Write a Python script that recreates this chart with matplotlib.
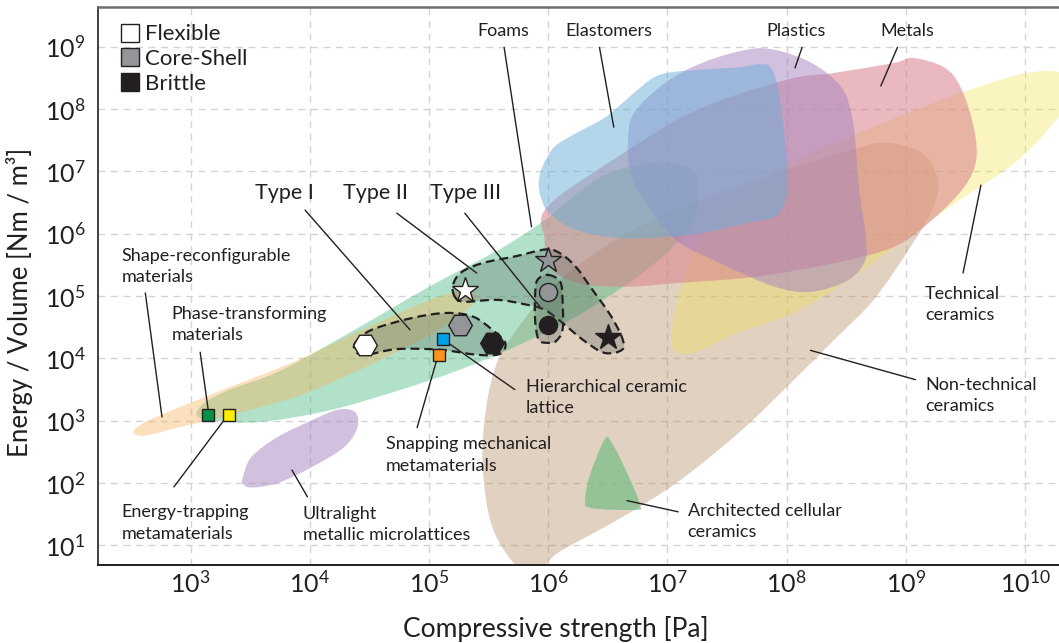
import numpy as np
import matplotlib
matplotlib.use("Agg")
import matplotlib.pyplot as plt
from matplotlib.path import Path
from matplotlib.patches import PathPatch
from matplotlib.lines import Line2D
from matplotlib.ticker import FixedLocator, FuncFormatter

FONT = "Lato"
plt.rcParams["font.family"] = [FONT, "DejaVu Sans"]
plt.rcParams["mathtext.fontset"] = "custom"
plt.rcParams["mathtext.rm"] = FONT
plt.rcParams["mathtext.it"] = FONT

# ---- material property envelopes (log10 strength [Pa], log10 energy density [Nm/m^3]) ----
NONTECH_LX = [5.85, 5.55, 5.45, 5.48, 5.58, 5.75, 5.97, 6.26, 6.68, 7.27, 7.94, 8.53, 8.83, 9.14, 9.27,
              9.23, 9.06, 8.73, 8.40, 8.00, 7.60, 7.08, 6.58, 6.08]
NONTECH_LY = [0.50, 1.20, 2.26, 3.22, 3.98, 4.50, 5.02, 5.50, 6.03, 6.54, 6.99, 7.34, 7.46, 7.29, 6.86,
              6.43, 5.85, 4.94, 4.30, 3.54, 2.81, 2.01, 1.41, 0.88]

TECH_LX = [7.04, 7.07, 7.16, 7.34, 7.66, 8.06, 8.52, 9.14, 9.60, 10.01, 10.30, 10.41, 10.28, 9.91, 9.45,
           8.99, 8.52, 8.06, 7.59, 7.22]
TECH_LY = [4.18, 4.83, 5.37, 6.11, 6.70, 7.18, 7.55, 8.03, 8.35, 8.58, 8.59, 8.39, 7.87, 7.13, 6.54,
           5.90, 5.26, 4.73, 4.41, 4.09]

METALS_LX = [5.99, 6.58, 7.24, 8.00, 8.40, 8.90, 9.06, 9.32, 9.46, 9.57, 9.59, 9.49, 9.22, 8.90, 8.40,
             7.74, 7.08, 6.65, 6.25, 6.01, 5.97]
METALS_LY = [6.43, 7.23, 7.98, 8.47, 8.58, 8.74, 8.82, 8.67, 8.35, 7.71, 7.18, 6.75, 6.22, 5.79, 5.53,
             5.31, 5.21, 5.15, 5.21, 5.47, 5.90]

PLASTICS_LX = [6.67, 6.72, 6.98, 7.29, 7.66, 7.90, 8.21, 8.46, 8.55, 8.58, 8.61, 8.66, 8.66, 8.52, 8.21,
               7.90, 7.44, 7.07, 6.82, 6.69]
PLASTICS_LY = [7.50, 7.94, 8.42, 8.74, 8.95, 8.95, 8.74, 8.35, 7.87, 7.39, 6.70, 6.01, 5.58, 5.26, 5.07,
               5.15, 5.53, 5.90, 6.49, 6.97]

ELASTOMERS_LX = [5.92, 5.95, 6.05, 6.23, 6.48, 6.72, 6.88, 7.03, 7.35, 7.59, 7.78, 7.87, 7.93, 7.98, 8.01,
                 7.99, 7.90, 7.66, 7.29, 6.98, 6.60, 6.23, 6.01, 5.94]
ELASTOMERS_LY = [6.81, 7.07, 7.39, 7.61, 7.87, 8.26, 8.50, 8.59, 8.64, 8.67, 8.72, 8.66, 8.31, 7.62, 6.97,
                 6.54, 6.27, 6.17, 6.01, 5.95, 5.93, 6.06, 6.33, 6.57]

FOAMS_LX = [3.05, 3.20, 3.58, 4.17, 4.75, 5.26, 5.76, 6.26, 6.77, 7.10, 7.25, 7.25, 7.14, 6.85, 6.43,
            5.97, 5.59, 5.01, 4.34, 3.75, 3.33, 3.12]
FOAMS_LY = [3.09, 3.00, 2.98, 3.17, 3.49, 3.82, 4.22, 4.70, 5.34, 5.90, 6.38, 6.86, 7.10, 7.13, 6.90,
            6.22, 5.75, 5.16, 4.42, 3.80, 3.50, 3.29]

SHAPE_LX = [2.52, 2.62, 2.89, 3.33, 3.92, 4.50, 5.01, 5.30, 5.40, 5.30, 5.01, 4.44, 3.87, 3.33, 2.91, 2.62]
SHAPE_LY = [2.82, 2.76, 2.89, 3.09, 3.41, 3.89, 4.38, 4.75, 4.97, 5.08, 4.94, 4.46, 3.95, 3.54, 3.22, 2.98]

LATTICE_LX = [3.44, 3.51, 3.73, 4.02, 4.24, 4.38, 4.40, 4.29, 4.02, 3.73, 3.51, 3.44]
LATTICE_LY = [2.10, 2.42, 2.74, 3.01, 3.18, 3.14, 2.90, 2.58, 2.26, 2.00, 1.93, 1.99]

CELLULAR_LX = [6.47, 6.53, 6.67, 6.77, 6.73, 6.36, 6.31, 6.35]
CELLULAR_LY = [2.69, 2.66, 2.13, 1.65, 1.57, 1.60, 1.73, 2.13]

# ---- dashed groupings of the three design types ----
TYPE1_LX = [4.38, 4.52, 4.86, 5.15, 5.37, 5.53, 5.64, 5.59, 5.40, 5.09, 4.73, 4.48, 4.39]
TYPE1_LY = [4.25, 4.46, 4.65, 4.73, 4.67, 4.46, 4.25, 4.07, 4.06, 4.14, 4.15, 4.06, 4.10]

TYPE2_LX = [5.22, 5.20, 5.27, 5.45, 5.73, 5.99, 6.12, 6.24, 6.36, 6.52, 6.62, 6.62, 6.47, 6.29, 6.12,
            5.97, 5.80, 5.57, 5.30]
TYPE2_LY = [4.98, 5.17, 5.38, 5.53, 5.64, 5.75, 5.66, 5.45, 5.13, 4.70, 4.33, 4.14, 4.09, 4.30, 4.57,
            4.78, 4.87, 4.94, 4.91]

TYPE3_LX = [6.00, 6.10, 6.12, 6.12, 6.06, 6.00, 5.92, 5.89, 5.89, 5.91]
TYPE3_LY = [5.34, 5.23, 4.94, 4.46, 4.27, 4.25, 4.30, 4.62, 5.02, 5.26]

# ---- measured designs ----
HEX_LX = [4.46, 5.26, 5.53]
HEX_LY = [4.22, 4.54, 4.25]
STAR_LX = [5.30, 6.00, 6.50]
STAR_LY = [5.10, 5.58, 4.34]
CIRCLE_LX = [6.00, 6.00]
CIRCLE_LY = [5.07, 4.54]
CIRCLE_FILL = ["#939598", "#231f20"]
FILLS = ["#ffffff", "#939598", "#231f20"]

SQUARE_LX = [3.15, 3.32, 5.08, 5.12]
SQUARE_LY = [3.09, 3.10, 4.06, 4.32]
SQUARE_FILL = ["#009245", "#ffec00", "#f7931e", "#00a0e9"]

LEGEND_LABELS = ["Flexible", "Core-Shell", "Brittle"]

X_TICKS = [3, 4, 5, 6, 7, 8, 9, 10]
Y_TICKS = [1, 2, 3, 4, 5, 6, 7, 8, 9]

# label text, text anchor (log x, log y), leader start, leader end
LABELS = [
    ("Foams", (5.62, 9.25), (5.63, 8.99), (5.86, 6.11)),
    ("Elastomers", (6.51, 9.25), (6.43, 8.99), (6.55, 7.71)),
    ("Plastics", (8.08, 9.25), (8.13, 8.99), (8.07, 8.66)),
    ("Metals", (9.01, 9.25), (8.93, 8.99), (8.79, 8.37)),
]
SIDE_LABELS = [
    ("Technical\nceramics", (9.16, 4.87), (9.63, 6.78), (9.48, 5.37)),
    ("Non-technical\nceramics", (9.16, 3.40), (9.08, 3.66), (8.20, 4.13)),
    ("Architected cellular\nceramics", (7.17, 1.38), (7.09, 1.54), (6.66, 1.72)),
    ("Hierarchical ceramic\nlattice", (5.81, 3.37), (5.72, 3.50), (5.16, 4.25)),
    ("Snapping mechanical\nmetamaterials", (4.64, 2.45), (4.90, 2.89), (5.07, 4.01)),
    ("Shape-reconfigurable\nmaterials", (2.42, 5.48), (2.62, 5.05), (2.76, 3.06)),
    ("Phase-transforming\nmaterials", (2.84, 4.55), (3.08, 4.10), (3.15, 3.14)),
    ("Energy-trapping\nmetamaterials", (2.42, 1.36), (2.86, 1.94), (3.30, 3.06)),
    ("Ultralight\nmetallic microlattices", (3.94, 1.34), (3.98, 1.78), (3.85, 2.21)),
]
TYPE_LABELS = [
    ("Type I", (3.79, 6.65), (3.96, 6.38), (4.84, 4.46)),
    ("Type II", (4.55, 6.65), (4.73, 6.33), (5.40, 5.37)),
    ("Type III", (5.31, 6.65), (5.30, 6.33), (5.93, 4.83)),
]


def blob(lx, ly):
    """Closed smooth outline (Catmull-Rom as cubic Beziers) through log-space vertices."""
    P = np.column_stack([lx, ly]).astype(float)
    n = len(P)
    verts = [P[0]]
    codes = [Path.MOVETO]
    for i in range(n):
        p0, p1, p2, p3 = P[i - 1], P[i], P[(i + 1) % n], P[(i + 2) % n]
        verts += [p1 + (p2 - p0) / 6.0, p2 - (p3 - p1) / 6.0, p2]
        codes += [Path.CURVE4] * 3
    verts.append(P[0])
    codes.append(Path.CLOSEPOLY)
    return Path(10.0 ** np.array(verts), codes)


fig = plt.figure(figsize=(10.59, 6.43), dpi=100)
ax = fig.add_axes([0.09254, 0.12130, 0.90746, 0.86858])
ax.set_xscale("log")
ax.set_yscale("log")
ax.set_xlim(10 ** 2.223, 10 ** 10.285)
ax.set_ylim(10 ** 0.687, 10 ** 9.645)

regions = [
    (NONTECH_LX, NONTECH_LY, "#b48c64", 0.40),
    (FOAMS_LX, FOAMS_LY, "#3cb878", 0.40),
    (SHAPE_LX, SHAPE_LY, "#f5b25a", 0.40),
    (TECH_LX, TECH_LY, "#f2e54c", 0.35),
    (METALS_LX, METALS_LY, "#d9808c", 0.55),
    (PLASTICS_LX, PLASTICS_LY, "#a682c0", 0.50),
    (ELASTOMERS_LX, ELASTOMERS_LY, "#6aaed8", 0.50),
    (LATTICE_LX, LATTICE_LY, "#a682c0", 0.50),
    (CELLULAR_LX, CELLULAR_LY, "#6dbb80", 0.65),
]
for k, (lx, ly, col, a) in enumerate(regions):
    ax.add_patch(PathPatch(blob(lx, ly), facecolor=col, alpha=a, edgecolor="none", zorder=1 + 0.01 * k))

for lx, ly in [(TYPE1_LX, TYPE1_LY), (TYPE2_LX, TYPE2_LY), (TYPE3_LX, TYPE3_LY)]:
    ax.add_patch(PathPatch(blob(lx, ly), facecolor=(0.30, 0.36, 0.33, 0.28), edgecolor="#231f20",
                           linewidth=1.6, linestyle=(0, (4.0, 2.2)), zorder=3))

# leader lines
for _, _, start, end in LABELS + SIDE_LABELS + TYPE_LABELS:
    ax.annotate("", xy=(10 ** end[0], 10 ** end[1]), xytext=(10 ** start[0], 10 ** start[1]),
                arrowprops=dict(arrowstyle="-", color="#231f20", lw=1.0, shrinkA=0, shrinkB=0), zorder=4)

mk = dict(markeredgecolor="#231f20", markeredgewidth=1.0, linestyle="none", zorder=5)
for i in range(3):
    ax.plot(10 ** HEX_LX[i], 10 ** HEX_LY[i], marker="H", markersize=17, markerfacecolor=FILLS[i], **mk)
    ax.plot(10 ** STAR_LX[i], 10 ** STAR_LY[i], marker="*", markersize=19, markerfacecolor=FILLS[i], **mk)
for i in range(2):
    ax.plot(10 ** CIRCLE_LX[i], 10 ** CIRCLE_LY[i], marker="o", markersize=13,
            markerfacecolor=CIRCLE_FILL[i], **mk)
for i in range(4):
    ax.plot(10 ** SQUARE_LX[i], 10 ** SQUARE_LY[i], marker="s", markersize=8.5,
            markerfacecolor=SQUARE_FILL[i], **mk)

txt = dict(color="#231f20", zorder=6)
for label, pos, _, _ in LABELS:
    ax.text(10 ** pos[0], 10 ** pos[1], label, ha="center", va="center", fontsize=13, **txt)
for label, pos, _, _ in SIDE_LABELS:
    ax.text(10 ** pos[0], 10 ** pos[1], label, ha="left", va="center", fontsize=13,
            linespacing=1.4, **txt)
for label, pos, _, _ in TYPE_LABELS:
    ax.text(10 ** pos[0], 10 ** pos[1], label, ha="center", va="center", fontsize=15.5, **txt)

handles = [Line2D([], [], marker="s", linestyle="none", markersize=13, markerfacecolor=c,
                  markeredgecolor="#231f20", markeredgewidth=1.0) for c in FILLS]
leg = ax.legend(handles, LEGEND_LABELS, loc="upper left", bbox_to_anchor=(0.003, 1.002), frameon=False,
                fontsize=16, handlelength=0.9, handletextpad=0.25, labelspacing=0.22, borderpad=0.35)
for t in leg.get_texts():
    t.set_color("#231f20")

# axes, ticks, grid
ax.xaxis.set_major_locator(FixedLocator([10.0 ** v for v in X_TICKS]))
ax.yaxis.set_major_locator(FixedLocator([10.0 ** v for v in Y_TICKS]))
ax.xaxis.set_minor_locator(FixedLocator([]))
ax.yaxis.set_minor_locator(FixedLocator([]))
fmt = FuncFormatter(lambda v, p: r"$10^{%d}$" % int(round(np.log10(v))))
ax.xaxis.set_major_formatter(fmt)
ax.yaxis.set_major_formatter(fmt)
ax.tick_params(axis="both", length=0, labelsize=18, colors="#231f20")
ax.tick_params(axis="x", pad=4)
ax.tick_params(axis="y", pad=9)
ax.set_axisbelow(True)
ax.grid(True, which="major", color="#d4d4d4", linewidth=1.0, linestyle=(0, (5, 4)))

ax.spines["right"].set_visible(False)
ax.spines["left"].set_color("#231f20")
ax.spines["bottom"].set_color("#231f20")
ax.spines["left"].set_linewidth(1.2)
ax.spines["bottom"].set_linewidth(1.4)
ax.spines["top"].set_color("#6d6e71")
ax.spines["top"].set_linewidth(1.8)
for s in ax.spines.values():
    s.set_zorder(7)

ax.set_xlabel("Compressive strength [Pa]", fontsize=19, color="#231f20")
ax.set_ylabel("Energy / Volume [Nm / m³]", fontsize=18.5, color="#231f20")
ax.xaxis.set_label_coords(0.4766, -0.091)
ax.yaxis.set_label_coords(-0.068, 0.47)

fig.savefig("out.png", dpi=100)
